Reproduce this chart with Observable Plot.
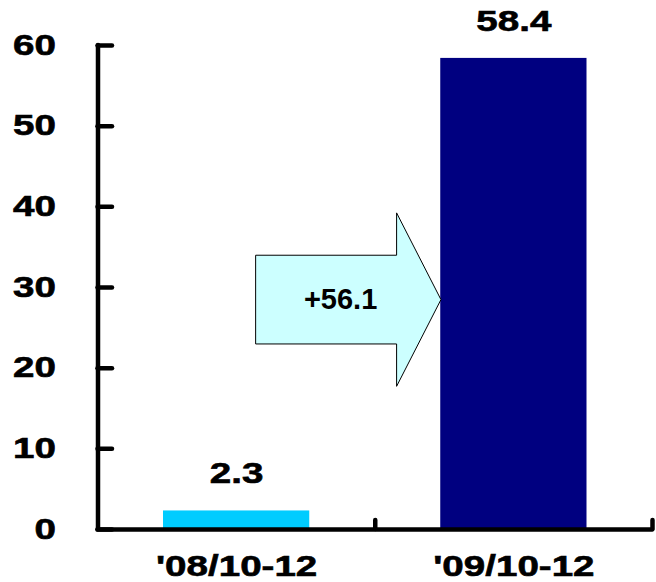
<!DOCTYPE html>
<html>
<head>
<meta charset="utf-8">
<script src="https://cdn.jsdelivr.net/npm/d3@7"></script>
<script src="https://cdn.jsdelivr.net/npm/@observablehq/plot@0.6"></script>
<style>
  html, body { margin: 0; padding: 0; background: #fff; }
  #chart svg { display: block; }
</style>
</head>
<body>
<div id="chart"></div>
<script>
// Quarterly totals, Oct–Dec of each year
const categories = ["'08/10-12", "'09/10-12"];
const values = [2.3, 58.4];
const barColors = ["#00ccff", "#000080"];
const yTicks = [0, 10, 20, 30, 40, 50, 60];

const bars = categories.map((c, i) => ({category: c, pos: i, value: values[i], color: barColors[i]}));
const change = values[1] - values[0];

// Block arrow between the two bars (x in category units, y in value units)
const arrow = {tail: 0.57, neck: 1.077, tip: 1.237, mid: 28.5, body: 5.5, head: 10.75};
const arrowPoints = [
  [arrow.tail, arrow.mid + arrow.body],
  [arrow.neck, arrow.mid + arrow.body],
  [arrow.neck, arrow.mid + arrow.head],
  [arrow.tip, arrow.mid],
  [arrow.neck, arrow.mid - arrow.head],
  [arrow.neck, arrow.mid - arrow.body],
  [arrow.tail, arrow.mid - arrow.body]
];

const font = "'Liberation Sans', Arial, Helvetica, sans-serif";
const barInset = 65.5;

const chart = Plot.plot({
  width: 656,
  height: 582,
  marginTop: 45,
  marginBottom: 53,
  marginLeft: 97.5,
  marginRight: 4,
  style: {fontFamily: font, fontWeight: "bold", fontSize: "29px", color: "#000", background: "#fff"},
  x: {type: "linear", domain: [0, categories.length], axis: null},
  y: {domain: [0, 60], axis: null},
  marks: [
    Plot.rectY(bars, {x1: "pos", x2: d => d.pos + 1, y: "value", fill: "color", insetLeft: barInset, insetRight: barInset}),
    Plot.line(arrowPoints, {x: d => d[0], y: d => d[1], curve: "linear-closed", fill: "#ccffff", stroke: "#000", strokeWidth: 1}),
    Plot.text([change], {x: 0.875, y: arrow.mid, text: d => "+" + d.toFixed(1), fontSize: 29, fontWeight: "bold", ariaDescription: "change"}),
    Plot.text(bars, {x: d => d.pos + 0.5, y: "value", text: d => d.value.toFixed(1), dy: -37, fontSize: 29, fontWeight: "bold", ariaDescription: "bar value"}),
    // y axis: labels, inward ticks, line
    Plot.axisY(yTicks, {label: null, tickSize: 0, tickPadding: 42, fontSize: 29, fontWeight: "bold"}),
    Plot.axisY(yTicks, {label: null, tickSize: -14.5, tickFormat: () => "", strokeWidth: 4.5, strokeLinecap: "round"}),
    // x axis: category labels, inward ticks at category boundaries, line
    Plot.axisX(categories.map((_, i) => i + 0.5), {label: null, tickSize: 0, tickPadding: 26, tickFormat: v => categories[Math.floor(v)], fontSize: 29, fontWeight: "bold"}),
    Plot.axisX(d3.range(1, categories.length + 1), {label: null, tickSize: -9, tickFormat: () => "", strokeWidth: 4.5, strokeLinecap: "round"}),
    Plot.ruleX([0], {strokeWidth: 4.5, strokeLinecap: "round"}),
    Plot.ruleY([0], {strokeWidth: 4.5, strokeLinecap: "round"})
  ]
});

document.getElementById("chart").appendChild(chart);

// Wide, heavy lettering for axis and value labels (scaled about each label's anchor)
function widen(groups, k) {
  groups.forEach(g => g.querySelectorAll("text").forEach(t => {
    const tr = t.getAttribute("transform") || "";
    t.setAttribute("transform", `${tr} scale(${k},1)`);
    t.style.stroke = "#000";
    t.style.strokeWidth = "0.6px";
  }));
}
const textGroups = Array.from(chart.querySelectorAll('g[aria-label="text"]'));
const valueGroups = Array.from(chart.querySelectorAll('g[aria-description="bar value"]'));
widen(chart.querySelectorAll('g[aria-label="y-axis tick label"]'), 1.33);
widen(chart.querySelectorAll('g[aria-label="x-axis tick label"]'), 1.33);
widen(valueGroups.length ? valueGroups : textGroups.slice(-1), 1.33);
</script>
</body>
</html>
